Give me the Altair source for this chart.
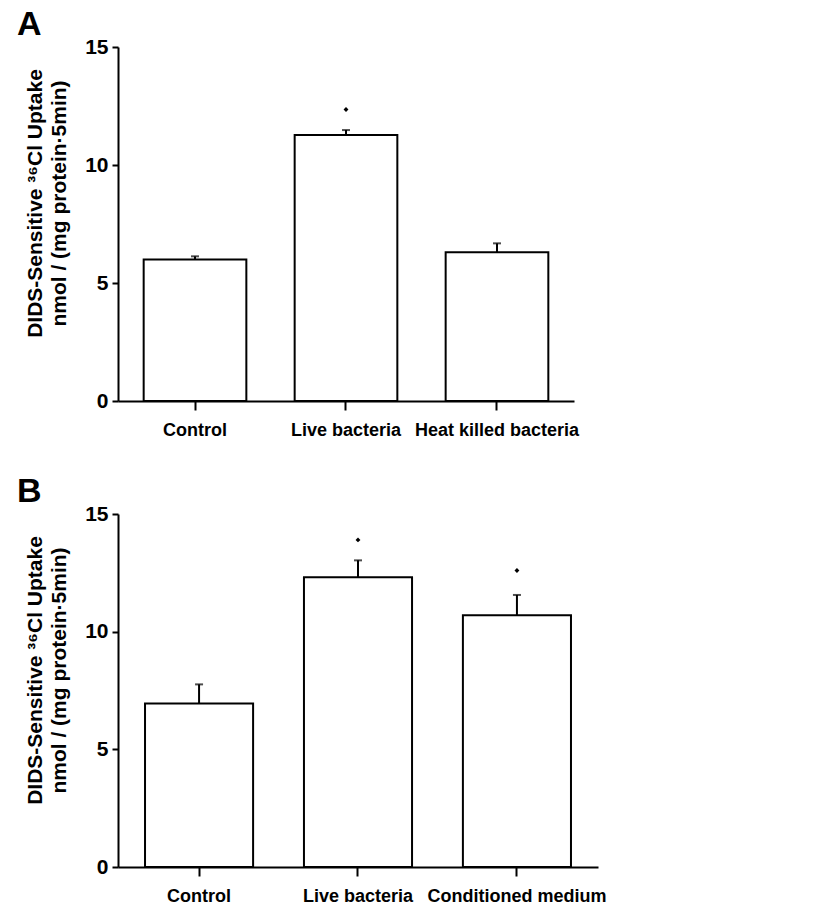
import altair as alt
import pandas as pd

# Panel A data
cats_a = ["Control", "Live bacteria", "Heat killed bacteria"]
mean_a = [6.0, 11.27, 6.3]
sem_a = [0.13, 0.21, 0.38]
star_a = [None, 12.35, None]

# Panel B data
cats_b = ["Control", "Live bacteria", "Conditioned medium"]
mean_b = [6.95, 12.31, 10.7]
sem_b = [0.81, 0.72, 0.86]
star_b = [None, 13.9, 12.6]

y_ticks = [0, 5, 10, 15]
y_title = ["DIDS-Sensitive \u00b3\u2076Cl Uptake", "nmol / (mg protein\u00b75min)"]
FONT = "Liberation Sans"


def panel(cats, mean, sem, star, letter, w, h):
    df = pd.DataFrame({"cat": cats, "mean": mean,
                       "top": [m + s for m, s in zip(mean, sem)],
                       "star": star})
    x = alt.X("cat:N", sort=cats,
              scale=alt.Scale(paddingInner=0.32, paddingOuter=0.17),
              axis=alt.Axis(title=None, labelAngle=0, labelFontSize=18,
                            labelFontWeight="bold", labelFont=FONT,
                            labelColor="black", tickSize=9, labelPadding=11,
                            domainColor="black", domainWidth=2,
                            tickColor="black", tickWidth=2))
    yscale = alt.Scale(domain=[0, 15], nice=False)
    yaxis = alt.Axis(values=y_ticks, grid=False, title=y_title,
                     titleFont=FONT, titleFontSize=21, titleFontWeight="bold",
                     titleColor="black", titleAngle=270, titleAlign="center",
                     titleBaseline="top", titleX=-94, titleY=156,
                     titleLineHeight=24,
                     labelFont=FONT, labelFontSize=21, labelFontWeight="bold",
                     labelColor="black", labelPadding=4, tickSize=6,
                     tickColor="black", tickWidth=2, domainColor="black",
                     domainWidth=2)
    base = alt.Chart(df)
    bars = base.mark_bar(fill="white", stroke="black", strokeWidth=2).encode(
        x=x, y=alt.Y("mean:Q", scale=yscale, axis=yaxis))
    err = base.mark_rule(color="black", strokeWidth=2).encode(
        x=alt.X("cat:N", sort=cats), y="mean:Q", y2="top:Q")
    cap = base.mark_tick(color="black", thickness=2, size=8).encode(
        x=alt.X("cat:N", sort=cats), y="top:Q")
    stars = base.transform_filter("datum.star != null").mark_point(
        shape="diamond", filled=True, color="black", size=24, opacity=1).encode(
        x=alt.X("cat:N", sort=cats), y="star:Q")
    return alt.layer(bars, err, cap, stars).properties(
        width=w, height=h,
        view=alt.ViewBackground(stroke="transparent"),
        title=alt.TitleParams(letter, anchor="start", frame="bounds",
                              font=FONT, fontSize=34, fontWeight="bold",
                              color="black", dx=-7, offset=-6))


chart_a = panel(cats_a, mean_a, sem_a, star_a, "A", 456, 354)
chart_b = panel(cats_b, mean_b, sem_b, star_b, "B", 480, 353)

chart = alt.vconcat(chart_a, chart_b, spacing=34).properties(
    padding={"left": 16, "top": 7, "right": 5, "bottom": 5}
).configure_view(stroke="transparent").configure(background="white")

chart.save("out.html", embed_options={"renderer": "svg", "actions": False})
